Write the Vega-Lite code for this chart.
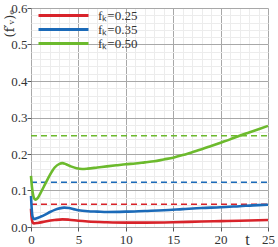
{
  "$schema": "https://vega.github.io/schema/vega-lite/v6.json",
  "width": 237,
  "height": 219,
  "autosize": "none",
  "padding": {"left": 31, "top": 8, "right": 10, "bottom": 20},
  "background": "white",
  "config": {
    "view": {"stroke": "#b0b0b0", "strokeWidth": 1},
    "axis": {"labelFont": "Liberation Serif", "titleFont": "Liberation Serif", "labelColor": "#333", "titleColor": "#333"},
    "legend": {"orient": "none", "legendX": 6, "legendY": 1, "title": null, "symbolType": "stroke", "symbolSize": 2500, "symbolStrokeWidth": 3, "symbolDash": [], "labelFont": "Liberation Serif", "labelFontSize": 13, "labelColor": "#333", "labelOffset": 8, "clipHeight": 13, "rowPadding": 0, "padding": 0}
  },
  "datasets": {
    "curves": [
      {"series": "fₖ=0.25", "t": 0, "v": 0.05},
      {"series": "fₖ=0.25", "t": 0.05, "v": 0.03},
      {"series": "fₖ=0.25", "t": 0.15, "v": 0.014},
      {"series": "fₖ=0.25", "t": 0.3, "v": 0.01},
      {"series": "fₖ=0.25", "t": 0.7, "v": 0.011},
      {"series": "fₖ=0.25", "t": 1.5, "v": 0.015},
      {"series": "fₖ=0.25", "t": 2.5, "v": 0.019},
      {"series": "fₖ=0.25", "t": 3.3, "v": 0.021},
      {"series": "fₖ=0.25", "t": 4, "v": 0.02},
      {"series": "fₖ=0.25", "t": 5, "v": 0.017},
      {"series": "fₖ=0.25", "t": 6, "v": 0.015},
      {"series": "fₖ=0.25", "t": 8, "v": 0.013},
      {"series": "fₖ=0.25", "t": 10, "v": 0.012},
      {"series": "fₖ=0.25", "t": 12, "v": 0.012},
      {"series": "fₖ=0.25", "t": 15, "v": 0.013},
      {"series": "fₖ=0.25", "t": 18, "v": 0.015},
      {"series": "fₖ=0.25", "t": 20, "v": 0.016},
      {"series": "fₖ=0.25", "t": 22, "v": 0.017},
      {"series": "fₖ=0.25", "t": 25, "v": 0.019},
      {"series": "fₖ=0.35", "t": 0, "v": 0.085},
      {"series": "fₖ=0.35", "t": 0.05, "v": 0.06},
      {"series": "fₖ=0.35", "t": 0.15, "v": 0.03},
      {"series": "fₖ=0.35", "t": 0.3, "v": 0.022},
      {"series": "fₖ=0.35", "t": 0.6, "v": 0.024},
      {"series": "fₖ=0.35", "t": 1, "v": 0.028},
      {"series": "fₖ=0.35", "t": 1.5, "v": 0.034},
      {"series": "fₖ=0.35", "t": 2, "v": 0.041},
      {"series": "fₖ=0.35", "t": 2.5, "v": 0.047},
      {"series": "fₖ=0.35", "t": 3, "v": 0.051},
      {"series": "fₖ=0.35", "t": 3.5, "v": 0.053},
      {"series": "fₖ=0.35", "t": 4, "v": 0.052},
      {"series": "fₖ=0.35", "t": 4.5, "v": 0.049},
      {"series": "fₖ=0.35", "t": 5, "v": 0.046},
      {"series": "fₖ=0.35", "t": 6, "v": 0.043},
      {"series": "fₖ=0.35", "t": 7, "v": 0.042},
      {"series": "fₖ=0.35", "t": 8, "v": 0.041},
      {"series": "fₖ=0.35", "t": 10, "v": 0.042},
      {"series": "fₖ=0.35", "t": 12, "v": 0.044},
      {"series": "fₖ=0.35", "t": 14, "v": 0.046},
      {"series": "fₖ=0.35", "t": 16, "v": 0.049},
      {"series": "fₖ=0.35", "t": 18, "v": 0.052},
      {"series": "fₖ=0.35", "t": 20, "v": 0.054},
      {"series": "fₖ=0.35", "t": 22, "v": 0.057},
      {"series": "fₖ=0.35", "t": 24, "v": 0.06},
      {"series": "fₖ=0.35", "t": 25, "v": 0.061},
      {"series": "fₖ=0.50", "t": 0, "v": 0.14},
      {"series": "fₖ=0.50", "t": 0.1, "v": 0.11},
      {"series": "fₖ=0.50", "t": 0.25, "v": 0.085},
      {"series": "fₖ=0.50", "t": 0.45, "v": 0.075},
      {"series": "fₖ=0.50", "t": 0.7, "v": 0.079},
      {"series": "fₖ=0.50", "t": 1, "v": 0.093},
      {"series": "fₖ=0.50", "t": 1.5, "v": 0.118},
      {"series": "fₖ=0.50", "t": 2, "v": 0.143},
      {"series": "fₖ=0.50", "t": 2.5, "v": 0.163},
      {"series": "fₖ=0.50", "t": 3, "v": 0.173},
      {"series": "fₖ=0.50", "t": 3.3, "v": 0.175},
      {"series": "fₖ=0.50", "t": 3.7, "v": 0.172},
      {"series": "fₖ=0.50", "t": 4.2, "v": 0.166},
      {"series": "fₖ=0.50", "t": 4.8, "v": 0.161},
      {"series": "fₖ=0.50", "t": 5.4, "v": 0.159},
      {"series": "fₖ=0.50", "t": 6, "v": 0.16},
      {"series": "fₖ=0.50", "t": 7, "v": 0.163},
      {"series": "fₖ=0.50", "t": 8, "v": 0.166},
      {"series": "fₖ=0.50", "t": 9, "v": 0.169},
      {"series": "fₖ=0.50", "t": 10, "v": 0.172},
      {"series": "fₖ=0.50", "t": 11, "v": 0.174},
      {"series": "fₖ=0.50", "t": 12, "v": 0.177},
      {"series": "fₖ=0.50", "t": 13, "v": 0.18},
      {"series": "fₖ=0.50", "t": 14, "v": 0.185},
      {"series": "fₖ=0.50", "t": 15, "v": 0.19},
      {"series": "fₖ=0.50", "t": 16, "v": 0.197},
      {"series": "fₖ=0.50", "t": 17, "v": 0.205},
      {"series": "fₖ=0.50", "t": 18, "v": 0.213},
      {"series": "fₖ=0.50", "t": 19, "v": 0.222},
      {"series": "fₖ=0.50", "t": 20, "v": 0.231},
      {"series": "fₖ=0.50", "t": 21, "v": 0.24},
      {"series": "fₖ=0.50", "t": 22, "v": 0.25},
      {"series": "fₖ=0.50", "t": 23, "v": 0.259},
      {"series": "fₖ=0.50", "t": 24, "v": 0.268},
      {"series": "fₖ=0.50", "t": 25, "v": 0.277}
    ],
    "refs": [
      {"series": "fₖ=0.25", "v": 0.0625},
      {"series": "fₖ=0.35", "v": 0.1225},
      {"series": "fₖ=0.50", "v": 0.25}
    ]
  },
  "resolve": {"axis": {"x": "independent", "y": "independent"}},
  "layer": [
    {
      "data": {"name": "refs"},
      "mark": {"type": "rule", "strokeDash": [6, 4], "strokeWidth": 1.6},
      "encoding": {
        "x": {"datum": 0, "type": "quantitative", "scale": {"domain": [0, 25], "nice": false},
          "axis": {"orient": "top", "values": [0,1,2,3,4,5,6,7,8,9,10,11,12,13,14,15,16,17,18,19,20,21,22,23,24,25], "labels": false, "ticks": false, "domain": false, "grid": true, "gridColor": "#ececec", "gridWidth": 1, "title": null}},
        "x2": {"datum": 25},
        "y": {"field": "v", "type": "quantitative", "scale": {"domain": [0, 0.6], "nice": false},
          "axis": {"orient": "right", "values": [0,0.02,0.04,0.06,0.08,0.1,0.12,0.14,0.16,0.18,0.2,0.22,0.24,0.26,0.28,0.3,0.32,0.34,0.36,0.38,0.4,0.42,0.44,0.46,0.48,0.5,0.52,0.54,0.56,0.58,0.6], "labels": false, "ticks": false, "domain": false, "grid": true, "gridColor": "#ececec", "gridWidth": 1, "title": null}},
        "color": {"field": "series", "type": "nominal",
          "scale": {"domain": ["fₖ=0.25", "fₖ=0.35", "fₖ=0.50"], "range": ["#d8232a", "#1b6ab8", "#6cba2d"]}}
      }
    },
    {
      "data": {"name": "curves"},
      "mark": {"type": "line", "strokeWidth": 2.6, "interpolate": "monotone"},
      "encoding": {
        "x": {"field": "t", "type": "quantitative",
          "axis": {"orient": "bottom", "values": [0,5,10,15,20,25], "grid": true, "gridColor": "#a8a8a8", "gridWidth": 1, "domain": false, "ticks": true, "tickSize": 4, "tickColor": "#555", "labelFontSize": 13, "labelPadding": 2, "labelFlush": false,
            "title": "t", "titleFontSize": 16, "titleFontWeight": "normal", "titleX": 216, "titleY": 12, "titleBaseline": "middle", "titleAlign": "center", "titleAnchor": null}},
        "y": {"field": "v", "type": "quantitative",
          "axis": {"orient": "left", "values": [0,0.1,0.2,0.3,0.4,0.5,0.6], "grid": true, "gridColor": "#a8a8a8", "gridWidth": 1, "domain": false, "ticks": true, "tickSize": 4, "tickColor": "#555", "labelFontSize": 13, "labelPadding": 0, "labelFlush": false,
            "title": "(f′ᵥ)ₑ", "titleFont": "DejaVu Serif", "titleFontSize": 13, "titleFontWeight": "normal", "titleAngle": 270, "titleX": -22, "titleY": 15, "titleBaseline": "middle", "titleAlign": "center", "titleAnchor": null}},
        "color": {"field": "series", "type": "nominal"}
      }
    }
  ]
}
